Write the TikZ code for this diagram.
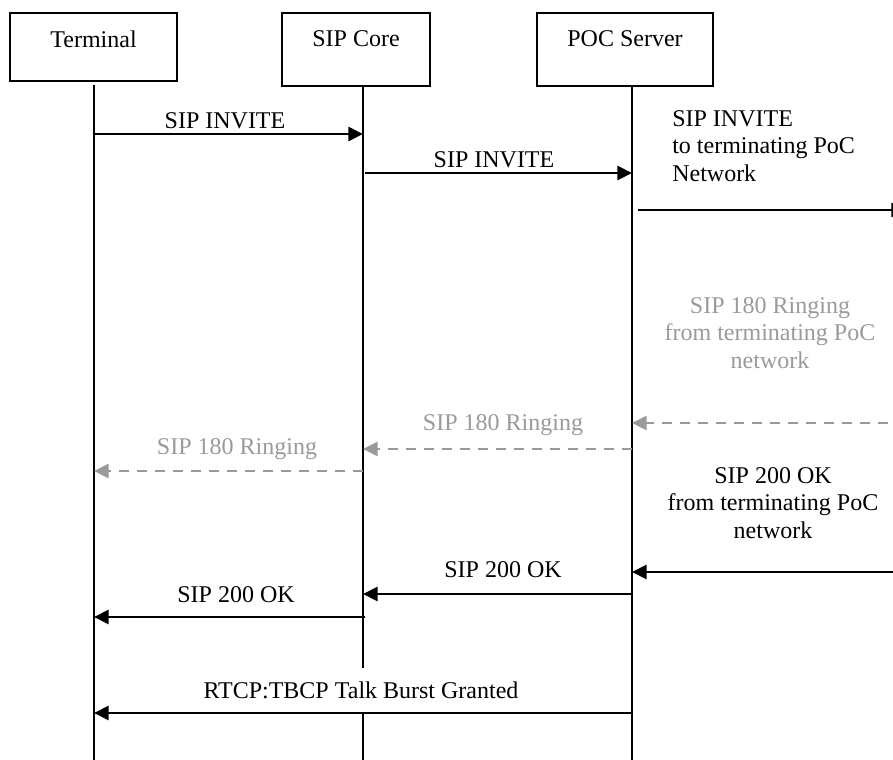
\documentclass[tikz,border=0pt]{standalone}
\usepackage{fontspec}
\setmainfont{Liberation Serif}
\usetikzlibrary{arrows.meta}
\definecolor{msggray}{HTML}{9A9A9A}
\begin{document}
\begin{tikzpicture}[x=0.75pt,y=-0.75pt,
  every node/.style={font=\fontsize{18}{20.6}\selectfont, inner sep=0pt},
  actor/.style={draw, line width=1.2pt, minimum height=51pt},
  life/.style={line width=1.25pt},
  msg/.style={line width=2.2pt, -{Triangle[length=11pt,width=10.5pt]}},
  gmsg/.style={msg, draw=msggray, dash pattern=on 7.5pt off 6pt},
  lbl/.style={align=center},
  glbl/.style={lbl, text=msggray}]
\useasboundingbox (0,0) rectangle (893,760);

% actors
\node[actor, minimum width=125pt, minimum height=51pt,
      label={[yshift=6pt]center:Terminal}] (term) at (93.5,47) {};
\node[actor, minimum width=111pt, minimum height=55pt,
      label={[yshift=8pt]center:SIP Core}] (core) at (356,49.5) {};
\node[actor, minimum width=132pt, minimum height=55pt,
      label={[yshift=8pt]center:POC Server}] (poc) at (625,49.5) {};

% lifelines
\coordinate (tA) at (94,85);  \coordinate (tB) at (94,762);
\coordinate (cA) at (363,86); \coordinate (cB) at (363,762);
\coordinate (pA) at (632,86); \coordinate (pB) at (632,762);
\draw[life] (tA) -- (tB);
\draw[life] (cA) -- (cB);
\draw[life] (pA) -- (pB);

% message end points
\coordinate (t1) at (94,134);  \coordinate (c1) at (363,134);
\coordinate (c2) at (365,173); \coordinate (p2) at (632,173);
\coordinate (p3) at (638,210); \coordinate (r3) at (906,210);
\coordinate (r4) at (906,423); \coordinate (p4) at (632,423);
\coordinate (p5) at (632,449); \coordinate (c5) at (363,449);
\coordinate (c6) at (363,471); \coordinate (t6) at (94,471);
\coordinate (r7) at (906,572); \coordinate (p7) at (632,572);
\coordinate (p8) at (632,594); \coordinate (c8) at (363,594);
\coordinate (c9) at (365,617); \coordinate (t9) at (94,617);
\coordinate (p10) at (632,713); \coordinate (t10) at (94,713);

% messages
\draw[msg] (t1) -- (c1);
\node[lbl] (l1) at (225,121) {SIP INVITE};

\draw[msg] (c2) -- (p2);
\node[lbl] (l2) at (494,160) {SIP INVITE};

\draw[msg] (p3) -- (r3);
\node[align=left, anchor=west] (l3) at (672,146) {SIP INVITE\\to terminating PoC\\Network};

\draw[gmsg] (r4) -- (p4);
\node[glbl] (l4) at (770,333) {SIP 180 Ringing\\from terminating PoC\\network};

\draw[gmsg] (p5) -- (c5);
\node[glbl] (l5) at (503,425) {SIP 180 Ringing};

\draw[gmsg] (c6) -- (t6);
\node[glbl] (l6) at (237,449) {SIP 180 Ringing};

\draw[msg] (r7) -- (p7);
\node[lbl] (l7) at (773,503) {SIP 200 OK\\from terminating PoC\\network};

\draw[msg] (p8) -- (c8);
\node[lbl] (l8) at (503,570) {SIP 200 OK};

\draw[msg] (c9) -- (t9);
\node[lbl] (l9) at (236,595) {SIP 200 OK};

\node[lbl, fill=white, minimum height=33pt] (l10) at (361,690) {RTCP:TBCP Talk Burst Granted};
\draw[msg] (p10) -- (t10);
\end{tikzpicture}
\end{document}
